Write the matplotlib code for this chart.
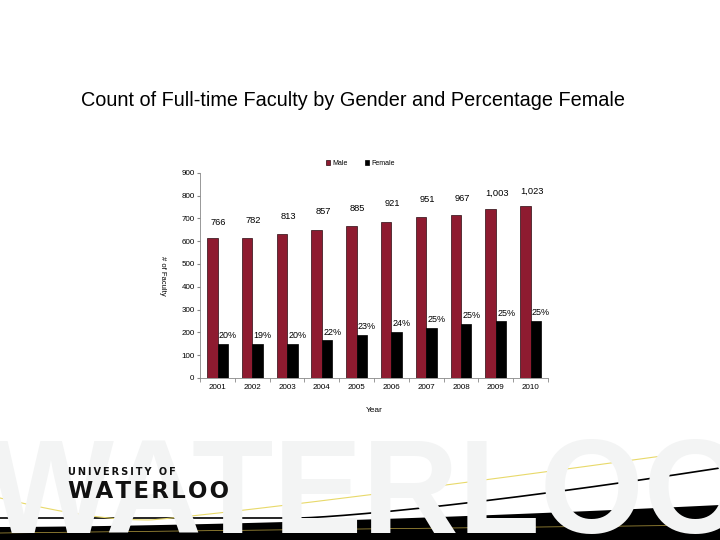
import numpy as np
import matplotlib
matplotlib.use('Agg')
import matplotlib.pyplot as plt

plt.rcParams['font.family'] = ['Liberation Sans', 'DejaVu Sans']

years = ['2001', '2002', '2003', '2004', '2005', '2006', '2007', '2008', '2009', '2010']
male = [613, 615, 633, 650, 668, 683, 705, 715, 742, 753]
female = [149, 150, 151, 165, 190, 203, 219, 238, 248, 251]
totals = [766, 782, 813, 857, 885, 921, 951, 967, 1003, 1023]
pct_female = [20, 19, 20, 22, 23, 24, 25, 25, 25, 25]

fig = plt.figure(figsize=(7.2, 5.4), dpi=100)

# slide decoration in pixel coordinates
bg = fig.add_axes([0, 0, 1, 1], zorder=0)
bg.set_xlim(0, 720)
bg.set_ylim(540, 0)
bg.axis('off')
bg.text(-12, 533, 'WATERLOO', fontsize=96, fontweight='bold', color='#f3f4f4',
        va='baseline', ha='left')
xs = np.linspace(0, 720, 200)
band_top = 527 - 22 * (xs / 720) ** 1.6
bg.fill_between(xs, band_top, 545, color='black', lw=0)
swoosh = 518 - 50 * np.clip((xs - 300) / 420, 0, 1) ** 1.3
bg.plot(xs, swoosh, color='black', lw=1.2)
yel = np.where(xs < 150, 498 + 22 * np.sin(xs / 150 * np.pi / 2),
               520 - 72 * ((xs - 150) / 570) ** 1.1)
bg.plot(xs, yel, color='#e8d96a', lw=0.8)
bg.plot(xs, 533 - 8 * (xs / 720), color='#b8a040', lw=0.5)
bg.text(68, 472, '\u2009'.join('UNIVERSITY') + '\u2009 \u2009' + '\u2009'.join('OF'),
        fontsize=7.0, fontweight='bold', color='#111111',
        va='center', ha='left', family=['DejaVu Sans'])
bg.text(68, 491, '\u200a'.join('WATERLOO'), fontsize=16.5, fontweight='bold', color='#111111',
        va='center', ha='left', family=['DejaVu Sans'])
bg.text(353, 101, 'Count of Full-time Faculty by Gender and Percentage Female',
        fontsize=14.3, ha='center', va='center', color='black')

# chart
ax = fig.add_axes([0.278, 0.300, 0.483, 0.380], zorder=2)
ax.patch.set_alpha(0)
x = np.arange(len(years))
w = 0.3
ax.bar(x - w / 2, male, w, color='#8e1b30', edgecolor='#2a0a10', lw=0.5, label='Male')
ax.bar(x + w / 2, female, w, color='black', edgecolor='black', lw=0.5, label='Female')

ax.set_xlim(-0.5, 9.5)
ax.set_ylim(0, 900)
ax.set_yticks(range(0, 901, 100))
ax.set_xticks(x)
ax.set_xticklabels(years)
ax.set_xticks(np.arange(-0.5, 10, 1), minor=True)
ax.tick_params(axis='x', which='major', length=0, labelsize=5.8, pad=4)
ax.tick_params(axis='x', which='minor', length=3, color='#888888')
ax.tick_params(axis='y', length=2, labelsize=5.8, color='#888888', pad=2)
for s in ['top', 'right']:
    ax.spines[s].set_visible(False)
ax.spines['left'].set_color('#888888')
ax.spines['bottom'].set_color('#888888')
ax.spines['left'].set_linewidth(0.6)
ax.spines['bottom'].set_linewidth(0.6)
ax.set_xlabel('Year', fontsize=6, labelpad=12)
ax.set_ylabel('# of Faculty', fontsize=5.5, rotation=270)
ax.yaxis.set_label_coords(-0.118, 0.5)

for i in range(len(years)):
    ax.annotate('%d%%' % pct_female[i], (x[i] + 0.3, female[i]), xytext=(0, 6),
                textcoords='offset points', ha='center', va='center', fontsize=6.5)

ax2 = ax.twinx()
ax2.set_ylim(-509, 1174)
ax2.axis('off')
for i in range(len(years)):
    ax2.text(x[i] + 0.03, totals[i], format(totals[i], ','), ha='center', va='center',
             fontsize=6.7)

ax.legend(loc='center', bbox_to_anchor=(0.46, 1.045), ncol=2, frameon=False,
          fontsize=5, handlelength=0.6, handleheight=0.6, handletextpad=0.3,
          columnspacing=2.5)

fig.savefig('out.png', dpi=100)
